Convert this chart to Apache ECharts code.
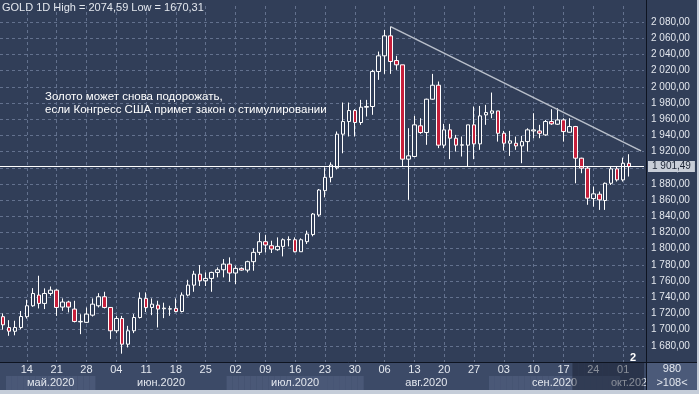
<!DOCTYPE html>
<html><head><meta charset="utf-8">
<script src="https://cdn.jsdelivr.net/npm/echarts@6/dist/echarts.min.js"></script>
<style>
html,body{margin:0;padding:0;background:#c5cdd9;width:699px;height:394px;overflow:hidden;}
#c{position:absolute;left:0;top:0;width:697px;height:390px;}
</style>
</head><body><div id="c"></div>
<script>
// ---- data ----
const dates = [
'05-08','05-11','05-12','05-13','05-14','05-15','05-18','05-19','05-20','05-21','05-22','05-25','05-26','05-27','05-28','05-29',
'06-01','06-02','06-03','06-04','06-05','06-08','06-09','06-10','06-11','06-12','06-15','06-16','06-17','06-18','06-19','06-22','06-23','06-24','06-25','06-26','06-29','06-30',
'07-01','07-02','07-03','07-06','07-07','07-08','07-09','07-10','07-13','07-14','07-15','07-16','07-17','07-20','07-21','07-22','07-23','07-24','07-27','07-28','07-29','07-30','07-31',
'08-03','08-04','08-05','08-06','08-07','08-10','08-11','08-12','08-13','08-14','08-17','08-18','08-19','08-20','08-21','08-24','08-25','08-26','08-27','08-28','08-31',
'09-01','09-02','09-03','09-04','09-07','09-08','09-09','09-10','09-11','09-14','09-15','09-16','09-17','09-18','09-21','09-22','09-23','09-24','09-25','09-28','09-29','09-30',
'10-01','10-02','10-05','10-06'
];
const openV = [
1716,1702.6,1698,1702.6,1716,1729.5,1742.7,1732.4,1744.7,1748.8,1727.9,1734.1,1725.4,1709.6,1709,1717.9,
1729.5,1740.6,1727.4,1698.6,1713.8,1682,1698.6,1715,1738.6,1727.4,1730.3,1725.8,1725.4,1726.2,1722.4,1742.7,1755,1768.6,1760.4,1763.3,1770.7,1774,
1781,1770,1775.7,1773.6,1784,1795.5,1808.7,1803.7,1798.8,1802.9,1811.1,1811.1,1796.3,1808.7,1817.5,1841.7,1871.8,1888.2,1900,1941.6,1957.2,1970.8,1956,
1974.9,1975.8,2019,2038.4,2063.1,2032.6,2027.3,1910.7,1914,1951.9,1943.6,1984.8,2002.1,1928,1946.9,1936.6,1928,1928,1953.1,1929.6,1965.4,
1967.5,1970.3,1942.7,1930.4,1930.4,1927.1,1932.4,1945.6,1945.6,1940.7,1957.2,1953.9,1959.2,1944,1951,1911.9,1899.6,1862,1867.4,1859.6,1880.9,1898.7,
1885.1,1905.6
];
const closeV = [
1706,1698.1,1702.6,1716.2,1729.5,1744.7,1732.4,1744.7,1748.8,1727.4,1734.1,1727.9,1710.1,1710.2,1719.2,1731.5,
1740.6,1727.4,1698.6,1713.8,1682,1698.6,1715,1738.6,1727.4,1731.5,1725.4,1726.6,1725.8,1722.4,1742.7,1755,1768.6,1760.4,1763.3,1770.7,1774,1781,
1770,1775.7,1773.6,1784,1795.5,1808.7,1804.6,1799.6,1802.9,1811.1,1811.5,1796.3,1811.1,1818.2,1842.9,1872.6,1888.2,1903.5,1941.6,1957.2,1970.8,1956,1974.9,
1975.8,2019,2038.4,2063.1,2031.4,2027.3,1910.7,1914.8,1953.1,1943.6,1984.8,2002.1,1928,1946.9,1936.6,1928,1928.4,1953.1,1929.6,1964.2,1968.3,
1970.3,1942.7,1930.4,1933.3,1927.1,1932.4,1946.9,1946.9,1942.7,1957.2,1954.3,1959.2,1944.8,1951,1911.9,1899.6,1862.5,1867.8,1860.4,1880.9,1898.7,1885.1,
1905.6,1901.49
];
const lowV = [
1700,1692.4,1693,1700.6,1713.7,1728.2,1726.2,1725.4,1741.8,1717,1723.3,1721.3,1708.9,1694.4,1708.1,1716.2,
1727.4,1726.2,1688.3,1695.7,1670.31,1678,1695.7,1713.8,1721.7,1717.9,1702.7,1714.2,1717.1,1721.3,1721.3,1741.1,1746.8,1754,1754,1746.8,1764.6,1764.6,
1759.2,1756.3,1772.8,1770.7,1772.8,1792.2,1795.5,1794.7,1797.5,1790.5,1802.9,1795.5,1796.3,1805.8,1815.3,1839.6,1863.5,1882,1898,1918,1938.7,1938.7,1953.1,
1963.4,1965.5,2008.7,2016.1,2016.1,2021.1,1901.6,1860.4,1913.1,1942,1928.4,1984,1924.3,1924.3,1910.7,1920.1,1914,1901.6,1910.7,1922.2,1953.1,
1961.3,1932.4,1921.3,1914.7,1922.2,1905.7,1920.1,1936.6,1936.6,1939.5,1953.1,1953.1,1932.4,1943.6,1880.9,1893.3,1854.3,1852,1848,1848,1878.8,1883,
1883,1889.2
];
const highV = [
1720,1711.7,1711,1723,1737,1751.3,1766.6,1751,1753.3,1750,1738.6,1735.7,1735.7,1719,1727.4,1738.6,
1745.1,1746.8,1728,1717,1717,1704.7,1719.2,1746,1746,1738.6,1735.7,1733.3,1729.5,1738.6,1746,1761.6,1772.7,1779.8,1770.7,1771.6,1776.9,1787.2,
1789.3,1779,1776.9,1785.2,1800.4,1819.4,1816.9,1809.9,1814,1812.8,1815.3,1814,1812.8,1822.3,1844.1,1873.8,1900.6,1906.8,1944.9,1980.7,1980.7,1972.5,1984,
1984,2021.1,2043.7,2070.5,2074.59,2038.4,2027.3,1949,1964.2,1961.3,1985.5,2016.1,2006.7,1954.3,1954.3,1940.7,1938.7,1953.1,1975.8,1976.5,1977.8,
1993,1970.3,1945.6,1945.6,1938.6,1939.5,1948.9,1967.5,1953.1,1959.2,1972.4,1973.7,1961.3,1961.3,1951.8,1912.5,1901.6,1876.8,1870.7,1881.8,1901.6,1901.6,
1912.6,1916.8
];
const tickDates = ['05-14','05-21','05-28','06-04','06-11','06-18','06-25','07-02','07-09','07-16','07-23','07-30','08-06','08-13','08-20','08-27','09-03','09-10','09-17','09-24','10-01'];
const monthNames = {'05':'май.2020','06':'июн.2020','07':'июл.2020','08':'авг.2020','09':'сен.2020','10':'окт.2020'};
const lastPrice = 1901.49;
const trendStart = ['08-07', 2074.59];
const trendEnd = ['10-06', 1921];
const shadeFrom = '09-21';
const yTicks = {min: 1660, max: 2100, step: 20};

// ---- styles ----
const BG = '#313e58';
const STRIP = '#3c4a67';
const BAND = '#4a5877';
const GRIDC = '#63718e';
const TXT = '#e3e7ee';
const NARROW = "'Liberation Sans Narrow','Arial Narrow','Liberation Sans',sans-serif";

const fmt = v => {
  const parts = v.toFixed(2).split('.');
  return parts[0].replace(/\B(?=(\d{3})+(?!\d))/g, ' ') + ',' + parts[1];
};
const tickSet = new Set(tickDates);
const isTick = (i, v) => tickSet.has(v);

const candles = openV.map((o, i) => [o, closeV[i], lowV[i], highV[i]]);

const monthOf = d => d.slice(0, 2);
const months = [];
dates.forEach((d, i) => {
  const m = monthOf(d);
  let last = months[months.length - 1];
  if (!last || last.m !== m) { last = {m, start: i, end: i}; months.push(last); }
  last.end = i;
});
months[0].start = 1;
const catW = 646 / dates.length;
const bandData = dates.map((d, i) => {
  const mi = months.findIndex(mm => mm.m === monthOf(d));
  const mo = months[mi];
  const inBand = i >= mo.start;
  const mid = (mo.start + mo.end) / 2;
  const item = {value: 1, itemStyle: {color: (inBand && mi % 2 === 0) ? BAND : 'rgba(0,0,0,0)'}};
  if (i === Math.floor(mid)) {
    item.label = {show: true, formatter: monthNames[mo.m], position: 'inside', color: TXT,
      fontSize: 11, fontFamily: NARROW, offset: [(mid - Math.floor(mid)) * catW, 0]};
  }
  return item;
});
const shadeIdx = dates.indexOf(shadeFrom);
const shadeData = dates.map((d, i) => i >= shadeIdx ? 2 : '-');

const dashed = {color: GRIDC, type: [3, 3], width: 1};

const chart = echarts.init(document.getElementById('c'));
chart.setOption({
  animation: false,
  backgroundColor: BG,
  title: {text: 'GOLD 1D High = 2074,59 Low = 1670,31', left: 2, top: 2, padding: 0,
    textStyle: {color: TXT, fontSize: 11, fontWeight: 'normal', fontFamily: NARROW}},
  grid: [
    {left: -2, right: 53, top: 6, bottom: 28},
    {left: -2, right: 53, top: 362, bottom: 0}
  ],
  xAxis: [
    {type: 'category', gridIndex: 0, data: dates, boundaryGap: true,
      axisLine: {show: false}, axisTick: {show: false},
      axisLabel: {interval: isTick, formatter: v => v.slice(3), color: TXT, fontSize: 11, fontFamily: NARROW, margin: 2},
      splitLine: {show: true, interval: isTick, alignWithLabel: true, lineStyle: dashed}},
    {type: 'category', gridIndex: 1, data: dates, boundaryGap: true, show: false}
  ],
  yAxis: [
    {type: 'value', gridIndex: 0, position: 'right', offset: 2, min: yTicks.min, max: yTicks.max, interval: yTicks.step,
      axisLine: {show: false}, axisTick: {show: false},
      splitLine: {show: true, showMinLine: false, showMaxLine: false, lineStyle: dashed},
      axisLabel: {showMinLabel: false, showMaxLabel: false, formatter: v => fmt(v), color: TXT, fontSize: 10, fontFamily: NARROW, margin: 5}},
    {type: 'value', gridIndex: 1, min: 0, max: 2, show: false}
  ],
  series: [
    {type: 'candlestick', xAxisIndex: 0, yAxisIndex: 0, data: candles, barWidth: 4, z: 3,
      itemStyle: {color: BG, color0: '#c61f3b', borderColor: '#ffffff', borderColor0: '#ffffff', borderWidth: 1},
      markLine: {silent: true, symbol: 'none', animation: false,
        data: [
          {yAxis: lastPrice, lineStyle: {color: '#ffffff', width: 1, type: 'solid'},
            label: {show: true, position: 'end', distance: 4, formatter: fmt(lastPrice), backgroundColor: '#c8ced8',
              color: '#1b2435', fontSize: 10, fontFamily: NARROW, padding: [1, 4, 0, 4]}},
          [{coord: trendStart, lineStyle: {color: '#b9bfca', width: 1.5, type: 'solid'}, label: {show: false}},
           {coord: trendEnd}]
        ]}},
    {type: 'bar', xAxisIndex: 1, yAxisIndex: 1, data: bandData, barCategoryGap: '0%', barGap: '-100%', silent: true, z: 2},
    {type: 'bar', xAxisIndex: 1, yAxisIndex: 1, data: shadeData, barCategoryGap: '0%', barGap: '-100%', silent: true, z: 3,
      itemStyle: {color: 'rgba(20,27,42,0.45)'}}
  ],
  graphic: [
    {type: 'rect', z: -10, silent: true, shape: {x: 0, y: 362, width: 697, height: 28}, style: {fill: STRIP}},
    {type: 'rect', z: 50, silent: true, shape: {x: 646, y: 362, width: 51, height: 28}, style: {fill: '#4b5a79'}},
    {type: 'line', z: 60, silent: true, shape: {x1: 646.5, y1: 0, x2: 646.5, y2: 390}, style: {stroke: '#0e1421', lineWidth: 1}},
    {type: 'line', z: 60, silent: true, shape: {x1: 0, y1: 362.5, x2: 697, y2: 362.5}, style: {stroke: '#0e1421', lineWidth: 1}},
    {type: 'text', z: 60, silent: true, x: 672, y: 369, style: {text: '980', fill: TXT, font: "11px " + NARROW, textAlign: 'center', textVerticalAlign: 'middle'}},
    {type: 'text', z: 60, silent: true, x: 672, y: 383, style: {text: '>108<', fill: TXT, font: "11px " + NARROW, textAlign: 'center', textVerticalAlign: 'middle'}},
    {type: 'text', z: 60, silent: true, x: 633, y: 358, style: {text: '2', fill: '#ffffff', font: "bold 11px " + NARROW, textAlign: 'center', textVerticalAlign: 'middle'}},
    {type: 'text', z: 60, silent: true, x: 45, y: 90, style: {text: 'Золото может снова подорожать,\nесли Конгресс США примет закон о стимулировании',
      fill: '#ffffff', font: "11.5px 'Liberation Sans', sans-serif", lineHeight: 13}}
  ]
});
</script>
</body></html>
